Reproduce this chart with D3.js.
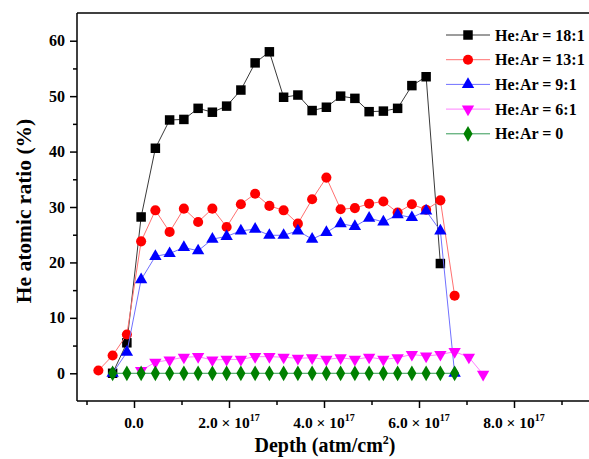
<!DOCTYPE html>
<html>
<head>
<meta charset="utf-8">
<script src="https://cdn.jsdelivr.net/npm/d3@7/dist/d3.min.js"></script>
<style>
  body { margin: 0; background: #fff; }
  svg { display: block; font-family: "Liberation Serif", "Times New Roman", serif; font-weight: bold; }
</style>
</head>
<body>
<svg id="chart" width="589" height="459"></svg>
<script>
// depth in units of 1e17 atm/cm2
var depth = [-0.75, -0.45, -0.15, 0.15, 0.45, 0.75, 1.05, 1.35, 1.65, 1.95, 2.25, 2.55, 2.85, 3.15,
             3.45, 3.75, 4.05, 4.35, 4.65, 4.95, 5.25, 5.55, 5.85, 6.15, 6.45, 6.75, 7.05, 7.35];

var he18 = [null, 0, 5.5, 28.2, 40.6, 45.7, 45.8, 47.8, 47.1, 48.2, 51.1, 56.0, 58.0, 49.8, 50.2,
            47.4, 48.0, 50.0, 49.6, 47.2, 47.3, 47.8, 51.9, 53.5, 19.8, null, null, null];
var he13 = [0.5, 3.2, 7.0, 23.8, 29.4, 25.5, 29.7, 27.3, 29.7, 26.4, 30.5, 32.4, 30.2, 29.4,
            27.0, 31.4, 35.3, 29.6, 29.8, 30.6, 31.0, 29.0, 30.5, 29.5, 31.2, 14.0, null, null];
var he9  = [null, 0, 3.8, 16.9, 21.1, 21.6, 22.7, 22.1, 24.2, 24.7, 25.7, 26.0, 24.9, 24.9,
            25.7, 24.2, 25.4, 27.0, 26.5, 28.0, 27.3, 28.6, 28.1, 29.3, 25.7, 0, null, null];
var he6  = [null, null, null, 0.5, 2.0, 2.4, 2.9, 3.0, 2.4, 2.5, 2.5, 3.0, 3.0, 2.9,
            2.7, 2.8, 2.5, 2.8, 2.5, 2.9, 2.5, 2.8, 3.4, 3.1, 3.4, 3.9, 2.9, -0.2];
var he0  = [null, 0, 0, 0, 0, 0, 0, 0, 0, 0, 0, 0, 0, 0,
            0, 0, 0, 0, 0, 0, 0, 0, 0, 0, 0, 0, null, null];

var seriesNames = ["He:Ar = 18:1", "He:Ar = 13:1", "He:Ar = 9:1", "He:Ar = 6:1", "He:Ar = 0"];
var xMajor = [0, 2, 4, 6, 8];
var xMinor = [-1, 1, 3, 5, 7, 9];
var yMajor = [0, 10, 20, 30, 40, 50, 60];
var yMinor = [5, 15, 25, 35, 45, 55];

var svg = d3.select("#chart");
var pLeft = 77, pRight = 609, pTop = 13, pBottom = 401;

var x = d3.scaleLinear().domain([-1.2, 10]).range([pLeft, pRight]);
var y = d3.scaleLinear().domain([-5, 65]).range([pBottom, pTop]);

var styles = [
  {color: "#000000", line: "#3a3a3a", sym: d3.symbolSquare, size: 90, rot: 0},
  {color: "#ff0000", line: "#ff7070", sym: d3.symbolCircle, size: 80, rot: 0},
  {color: "#0000ff", line: "#7070ff", sym: d3.symbolTriangle, size: 66, rot: 0},
  {color: "#ff00ff", line: "#ff80ff", sym: d3.symbolTriangle, size: 66, rot: 180},
  {color: "#008000", line: "#339955", sym: d3.symbolDiamond, size: 72, rot: 0}
];
var values = [he18, he13, he9, he6, he0];

// axes
var g = svg.append("g");
g.append("line").attr("x1", pLeft).attr("x2", 589).attr("y1", pTop).attr("y2", pTop)
  .attr("stroke", "#000").attr("stroke-width", 1.5);

var xAxis = g.append("g").attr("transform", "translate(0," + pBottom + ")");
xAxis.call(d3.axisBottom(x).tickValues(xMajor).tickSize(7).tickFormat(""));
xAxis.append("g").call(d3.axisBottom(x).tickValues(xMinor).tickSize(4).tickFormat(""));
xAxis.selectAll(".domain").remove();
xAxis.selectAll("line").attr("stroke", "#000").attr("stroke-width", 1.5);
g.append("line").attr("x1", pLeft).attr("x2", 589).attr("y1", pBottom).attr("y2", pBottom)
  .attr("stroke", "#000").attr("stroke-width", 1.5);

xMajor.forEach(function(v) {
  var t = g.append("text").attr("x", x(v)).attr("y", 428).attr("text-anchor", "middle")
    .attr("font-size", 15.5);
  if (v === 0) {
    t.text("0.0");
  } else {
    t.append("tspan").text(v.toFixed(1) + " \u00d7 10");
    t.append("tspan").attr("font-size", 10).attr("dy", -7).text("17");
  }
});

var yAxis = g.append("g").attr("transform", "translate(" + pLeft + ",0)");
yAxis.call(d3.axisLeft(y).tickValues(yMajor).tickSize(7).tickPadding(5));
yAxis.append("g").call(d3.axisLeft(y).tickValues(yMinor).tickSize(4).tickFormat(""));
yAxis.selectAll(".domain").remove();
yAxis.selectAll("line").attr("stroke", "#000").attr("stroke-width", 1.5);
yAxis.selectAll("text").attr("font-size", 16).attr("fill", "#000")
  .attr("font-family", "Liberation Serif").attr("font-weight", "bold");
g.append("line").attr("x1", pLeft).attr("x2", pLeft).attr("y1", pTop).attr("y2", pBottom)
  .attr("stroke", "#000").attr("stroke-width", 1.5);

g.append("text").attr("transform", "translate(31,211) rotate(-90)")
  .attr("text-anchor", "middle").attr("font-size", 21.5).text("He atomic ratio (%)");

var xt = g.append("text").attr("x", 325).attr("y", 452).attr("text-anchor", "middle").attr("font-size", 20);
xt.append("tspan").text("Depth (atm/cm");
xt.append("tspan").attr("font-size", 12).attr("dy", -8).text("2");
xt.append("tspan").attr("dy", 8).text(")");

// series
var line = d3.line().x(function(d) { return x(d.x); }).y(function(d) { return y(d.v); });

values.forEach(function(arr, k) {
  var st = styles[k];
  var pts = arr.map(function(v, i) { return {x: depth[i], v: v}; })
    .filter(function(d) { return d.v !== null; });
  var sg = svg.append("g");
  sg.append("path").datum(pts)
    .attr("d", line).attr("fill", "none").attr("stroke", st.line).attr("stroke-width", 1);
  sg.selectAll("path.m").data(pts)
    .enter().append("path").attr("class", "m")
    .attr("d", d3.symbol().type(st.sym).size(st.size))
    .attr("transform", function(d) { return "translate(" + x(d.x) + "," + y(d.v) + ") rotate(" + st.rot + ")"; })
    .attr("fill", st.color);
});

// legend
var lg = svg.append("g");
seriesNames.forEach(function(name, k) {
  var st = styles[k];
  var ly = 35 + k * 24.7;
  lg.append("line").attr("x1", 446).attr("x2", 490).attr("y1", ly).attr("y2", ly)
    .attr("stroke", st.line).attr("stroke-width", 1);
  lg.append("path").attr("d", d3.symbol().type(st.sym).size(st.size))
    .attr("transform", "translate(468," + ly + ") rotate(" + st.rot + ")").attr("fill", st.color);
  lg.append("text").attr("x", 495).attr("y", ly + 5.5).attr("font-size", 16).text(name);
});
</script>
</body>
</html>
